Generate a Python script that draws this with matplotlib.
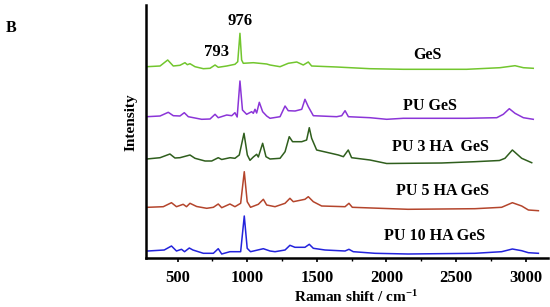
import matplotlib
matplotlib.use("Agg")
import matplotlib.pyplot as plt
from matplotlib.ticker import MultipleLocator

plt.rcParams['font.family'] = ['Liberation Serif', 'DejaVu Serif']
plt.rcParams['mathtext.fontset'] = 'custom'
plt.rcParams['mathtext.rm'] = 'Liberation Serif'
plt.rcParams['mathtext.bf'] = 'Liberation Serif:bold'
plt.rcParams['mathtext.default'] = 'bf'

# ---- data (wavenumber, intensity a.u. with vertical offsets as drawn) ----
ges_x = [278, 374, 429, 469, 517, 553, 570, 589, 625, 685, 733, 769, 792, 853, 912, 932, 948, 960, 972,
         1044, 1140, 1164, 1236, 1295, 1356, 1403, 1439, 1463, 1643, 1882, 2121, 2577, 2816, 2924, 2984, 3055]
ges_y = [191.3, 192, 198, 192, 192.7, 195.3, 193.3, 194.3, 191.3, 189.3, 189.7, 193, 190.7, 192, 193.7, 196.3, 224.7, 198, 194.7,
         195.3, 194, 193, 191.3, 194.7, 196, 193, 196, 192, 191, 189.3, 188.7, 188.7, 190.3, 192.3, 190.3, 189.7]

pu_x = [278, 374, 433, 469, 517, 548, 577, 673, 733, 769, 792, 853, 889, 912, 928, 948, 966, 996, 1032, 1044,
        1056, 1068, 1087, 1111, 1140, 1164, 1236, 1272, 1295, 1344, 1392, 1415, 1439, 1475, 1643, 1679, 1703,
        1727, 1882, 2002, 2121, 2577, 2793, 2840, 2883, 2924, 2984, 3055]
pu_y = [141.3, 142, 145.7, 142.3, 142, 145.3, 141.3, 138.7, 139, 143.7, 140.3, 143, 142.3, 145.3, 141, 177, 148, 143.7, 146.3, 144.7,
        148.7, 145, 155.7, 146.3, 142, 139.7, 141.3, 152, 147.3, 147, 148.7, 158.7, 151.3, 142.3, 141.3, 142.3, 147.3,
        141.3, 140.3, 138.7, 139.7, 139.7, 140.3, 143.7, 149.3, 144.7, 140.3, 138.7]

pu3_x = [278, 374, 445, 481, 517, 589, 625, 697, 745, 792, 817, 877, 912, 943, 977, 1001, 1020, 1044, 1068,
         1080, 1111, 1135, 1164, 1236, 1272, 1302, 1326, 1392, 1427, 1446, 1463, 1499, 1571, 1655, 1691, 1726,
         1750, 1882, 2002, 2155, 2397, 2636, 2812, 2852, 2905, 2972, 3044]
pu3_y = [99, 100.3, 104, 100, 100.3, 103, 99.7, 97, 97, 100.3, 98.5, 100.3, 99.7, 103, 124.7, 103, 97.7, 101, 103.7,
         101, 114.7, 101.3, 99, 99.7, 106.3, 121.3, 116.3, 116.3, 118, 130.3, 119.7, 108, 105.7, 103, 101.3, 108,
         100.3, 98, 94.5, 94.7, 95, 96.3, 97.5, 99.7, 108, 99.7, 95.3]

pu5_x = [286, 397, 456, 492, 540, 564, 589, 637, 709, 757, 792, 817, 876, 912, 953, 979, 1000, 1024, 1080,
         1116, 1140, 1200, 1272, 1307, 1331, 1415, 1439, 1475, 1535, 1703, 1731, 1755, 2155, 2636, 2828, 2905,
         2972, 3020, 3092]
pu5_y = [50.7, 51.3, 55.3, 51.3, 53.7, 51.3, 54.7, 51.5, 49.7, 50.7, 54, 50.3, 54, 51.3, 54.7, 86.3, 56.3, 50.7, 53.7,
         58.7, 53, 51.3, 54.7, 59.7, 56.3, 58.7, 61.3, 56.3, 52, 51.3, 54.7, 50.7, 48.7, 49.3, 50.7, 55.3,
         52, 48, 47.3]

pu10_x = [286, 404, 456, 492, 528, 550, 584, 610, 685, 757, 792, 817, 876, 953, 979, 1000, 1024, 1116, 1164,
          1200, 1272, 1307, 1343, 1415, 1446, 1475, 1559, 1703, 1731, 1762, 1918, 2155, 2636, 2828, 2905, 2972,
          3020, 3092]
pu10_y = [7, 8, 12, 7, 8.7, 6.3, 10, 8, 4.7, 4.7, 9.3, 4, 6.3, 6.3, 42, 9.7, 6.3, 9.3, 7,
          6.3, 8, 12.7, 10.7, 10.7, 13.7, 9.7, 8, 7, 8.7, 6.3, 4.7, 4, 4.7, 6.3, 9, 7.3,
          5.3, 4.7]

series = [
    (ges_x, ges_y, '#72c62e', 'GeS', 427, 55),
    (pu_x, pu_y, '#8b35d8', 'PU GeS', 430, 106),
    (pu3_x, pu3_y, '#2f5e1d', 'PU 3 HA  GeS', 440, 147),
    (pu5_x, pu5_y, '#b4452c', 'PU 5 HA GeS', 442, 191),
    (pu10_x, pu10_y, '#2323dc', 'PU 10 HA GeS', 435, 236),
]

peak_labels = ['976', '793']
peak_label_px = [(240, 21), (217, 52)]

x_ticks = [500, 1000, 1500, 2000, 2500, 3000]

W, H = 550, 307
fig = plt.figure(figsize=(W / 100, H / 100), dpi=100)
ax = fig.add_axes([146 / W, 1 - 258 / H, (548 - 146) / W, (258 - 5) / H])

for x, y, c, name, tx, ty in series:
    ax.plot(x, y, color=c, lw=1.1)
    fig.text(tx / W, 1 - ty / H, name, ha='center', va='center',
             fontsize=11.5, fontweight='bold', color='black')

for lab, (px, py) in zip(peak_labels, peak_label_px):
    fig.text(px / W, 1 - py / H, lab, ha='center', va='center',
             fontsize=12, fontweight='bold')

fig.text(11 / W, 1 - 28 / H, 'B', ha='center', va='center', fontsize=11.5, fontweight='bold')

ax.set_xlim(273, 3161)
ax.set_ylim(0, 253)
ax.set_xticks(x_ticks)
ax.xaxis.set_minor_locator(MultipleLocator(250))
ax.set_yticks([])
for lbl in ax.get_xticklabels():
    lbl.set_fontweight('bold')
ax.tick_params(axis='x', which='major', direction='out', length=3, width=1.2, labelsize=12, pad=6)
ax.tick_params(axis='x', which='minor', direction='out', length=2, width=1.0)
for s in ['top', 'right']:
    ax.spines[s].set_visible(False)
for s in ['left', 'bottom']:
    ax.spines[s].set_linewidth(1.8)

fig.text(356 / W, 1 - 297 / H, 'Raman shift / cm$^{-1}$', ha='center', va='center',
         fontsize=11, fontweight='bold')
fig.text(131 / W, 1 - 122 / H, 'Intensity', ha='center', va='center', rotation=90,
         fontsize=11, fontweight='bold')

fig.savefig('out.png', dpi=100)
